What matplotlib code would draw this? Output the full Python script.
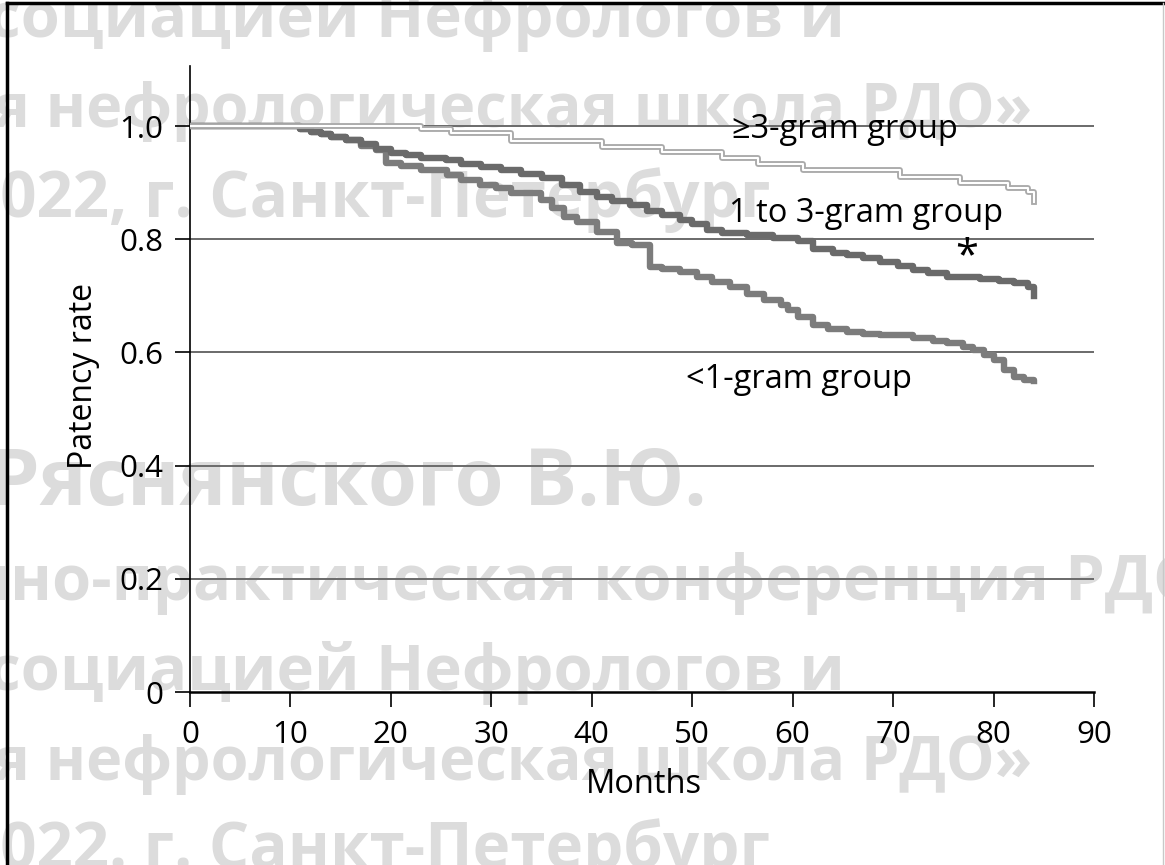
import matplotlib
matplotlib.use("Agg")
import matplotlib.pyplot as plt
from matplotlib.lines import Line2D

# ---------------- data ----------------
months_ge3 = [0, 23, 26, 32, 41, 47, 53, 56.5, 61, 70.7, 76.7, 81.4, 83.4, 84]
rate_ge3 = [1.0, 0.994, 0.988, 0.974, 0.963, 0.954, 0.943, 0.932, 0.922, 0.91, 0.899, 0.89, 0.883, 0.866]

months_1to3 = [0, 10, 11, 12, 13, 14, 15.5, 17, 18.5, 20, 21.5, 23, 25.5, 27, 29, 31, 33, 35, 37,
               38.8, 40.5, 42, 43.8, 45.5, 47, 48.8, 50, 51.5, 53, 55.5, 58, 60.5, 62, 64, 65.4,
               67, 68.7, 70.5, 72, 73.5, 75.4, 78.7, 80.5, 82, 83.4, 84]
rate_1to3 = [1.0, 1.0, 0.995, 0.99, 0.985, 0.98, 0.975, 0.968, 0.96, 0.952, 0.948, 0.944, 0.94,
             0.933, 0.928, 0.922, 0.915, 0.908, 0.896, 0.883, 0.875, 0.868, 0.86, 0.85, 0.842,
             0.834, 0.826, 0.816, 0.811, 0.807, 0.802, 0.797, 0.783, 0.776, 0.772, 0.766, 0.76,
             0.753, 0.746, 0.74, 0.733, 0.73, 0.727, 0.723, 0.716, 0.70]

months_lt1 = [0, 10, 11, 12, 13, 14, 15.5, 17, 18.5, 19.5, 21, 23, 25.6, 27, 28.9, 30.5, 32, 34.9,
              36, 37.2, 38.5, 40.5, 42.5, 44, 45.8, 47, 48.8, 50.5, 52, 53.8, 55.5, 57.1, 58.8,
              59.5, 60.5, 62, 63.5, 65.4, 67, 68.7, 72, 74, 75.4, 77, 78, 79, 80, 81, 82, 83, 84]
rate_lt1 = [1.0, 1.0, 0.995, 0.99, 0.985, 0.98, 0.975, 0.965, 0.957, 0.935, 0.93, 0.922, 0.913,
            0.905, 0.896, 0.89, 0.882, 0.869, 0.855, 0.84, 0.83, 0.813, 0.793, 0.789, 0.751,
            0.747, 0.742, 0.733, 0.725, 0.716, 0.704, 0.693, 0.684, 0.675, 0.663, 0.648, 0.641,
            0.636, 0.633, 0.631, 0.625, 0.62, 0.617, 0.61, 0.604, 0.596, 0.587, 0.569, 0.557,
            0.552, 0.549]

group_labels = ["\u22653-gram group", "1 to 3-gram group", "<1-gram group"]
x_ticks = [0, 10, 20, 30, 40, 50, 60, 70, 80, 90]
y_ticks = [0, 0.2, 0.4, 0.6, 0.8, 1.0]
y_ticklabels = ["0", "0.2", "0.4", "0.6", "0.8", "1.0"]

# watermark rows: text, anchor x (px), baseline y (px), alignment, size
watermark_lines = [
    ("Ассоциацией Нефрологов и", 845, 37, 'right', 45.5),
    ("Российская нефрологическая школа РДО»", 1032, 127, 'right', 44),
    ("2022, г. Санкт-Петербург", 770, 217, 'right', 45.8),
    ("Ряснянского В.Ю.", 707, 505, 'right', 57),
    ("Науч", 10, 600, 'right', 45.5),
    ("но-практическая конференция РДО", 10, 600, 'left', 45.5),
    ("Ассоциацией Нефрологов и", 845, 690, 'right', 45.5),
    ("Российская нефрологическая школа РДО»", 1032, 780, 'right', 44),
    ("2022. г. Санкт-Петербург", 770, 868, 'right', 45.8),
]

# ---------------- figure ----------------
W, H = 1165, 865
plt.rcParams['font.family'] = ['Open Sans', 'DejaVu Sans']
fig = plt.figure(figsize=(W / 100, H / 100), dpi=100)
fig.patch.set_facecolor('white')

ax = fig.add_axes([190 / W, 1 - 692 / H, 904 / W, (692 - 66) / H])
ax.patch.set_alpha(0)

# watermark (behind everything)
for txt, xa, yb, ha, fs in watermark_lines:
    fig.text(xa / W, 1 - yb / H, txt, ha=ha, va='baseline', fontsize=fs,
             fontweight='bold', color='#dcdcdc', family=['Open Sans', 'DejaVu Sans'],
             zorder=-5)

# grid lines
for yv in y_ticks[1:]:
    ax.plot([0, 90], [yv, yv], color='#6a6a6a', lw=1.4, zorder=1, solid_capstyle='butt')

# curves
ax.step(months_lt1, rate_lt1, where='post', color='#7c7c7c', lw=4.6, zorder=3)
ax.step(months_1to3, rate_1to3, where='post', color='#6a6a6a', lw=4.6, zorder=4)
ax.step(months_ge3, rate_ge3, where='post', color='#aaaaaa', lw=4.2, zorder=5)
ax.step(months_ge3, rate_ge3, where='post', color='white', lw=1.5, zorder=6)

# labels on chart
ax.text(65.2, 0.993, group_labels[0], fontsize=23.5, ha='center', va='center', zorder=8)
ax.text(67.3, 0.846, group_labels[1], fontsize=23.5, ha='center', va='center', zorder=8)
ax.text(60.6, 0.553, group_labels[2], fontsize=23.5, ha='center', va='center', zorder=8)
ax.text(77.3, 0.768, "*", fontsize=30, ha='center', va='center', zorder=8)

ax.set_xlim(0, 90)
ax.set_ylim(0, (692 - 66) / 566)
ax.set_xticks(x_ticks)
ax.set_yticks(y_ticks)
ax.set_yticklabels(y_ticklabels)
ax.tick_params(axis='both', direction='out', length=11, width=1.2, labelsize=22.5,
               color='black', labelcolor='black')
ax.tick_params(axis='y', pad=8)
ax.tick_params(axis='x', pad=9)

for s in ['top', 'right']:
    ax.spines[s].set_visible(False)
ax.spines['left'].set_linewidth(1.2)
ax.spines['bottom'].set_linewidth(1.8)
ax.spines['bottom'].set_bounds(0, 90)

ax.set_ylabel("Patency rate", fontsize=23)
ax.set_xlabel("Months", fontsize=23.5)
ax.yaxis.set_label_coords(-0.1, 0.504)
ax.xaxis.set_label_coords(0.502, -0.121)

# outer frame: black on left/top, faint on right
fig.add_artist(Line2D([6.5 / W, 6.5 / W], [0, 1 - 3 / H], transform=fig.transFigure,
                      color='black', lw=2.5, zorder=10))
fig.add_artist(Line2D([6.5 / W, 1163 / W], [1 - 3 / H, 1 - 3 / H], transform=fig.transFigure,
                      color='black', lw=2.5, zorder=10))
fig.add_artist(Line2D([1163 / W, 1163 / W], [0, 1 - 3 / H], transform=fig.transFigure,
                      color='#c8c8c8', lw=1.0, zorder=10))

fig.savefig("out.png", dpi=100, facecolor='white')
